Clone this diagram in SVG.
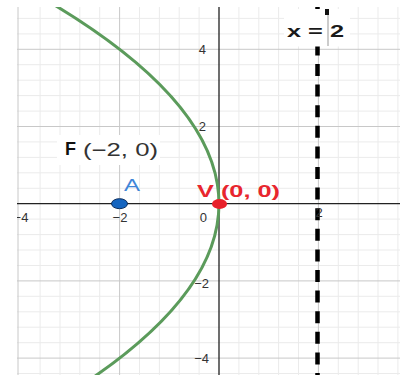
<svg xmlns="http://www.w3.org/2000/svg" width="404" height="379" viewBox="0 0 404 379">
<style>
.minor{stroke:#ebebeb;stroke-width:1;fill:none}
.major{stroke:#c8c8c8;stroke-width:1;fill:none}
.axis{stroke:#222;stroke-width:1.3;fill:none}
.tick{font-family:"Liberation Sans",Arial,sans-serif;font-size:13px;fill:#333}
.lbl{font-family:"Liberation Sans",Arial,sans-serif}
</style>
<defs>
<clipPath id="plot"><rect x="17" y="7" width="383" height="368"/></clipPath>
</defs>
<rect width="404" height="379" fill="#fff"/>
<g clip-path="url(#plot)">
<g id="grid">
<path class="minor" d="M40.1 7V375M60 7V375M79.8 7V375M99.7 7V375M139.5 7V375M159.4 7V375M179.2 7V375M199.1 7V375M238.9 7V375M258.8 7V375M278.6 7V375M298.5 7V375M338.3 7V375M358.2 7V375M378 7V375M397.9 7V375
M17 18.4H400M17 33.9H400M17 64.7H400M17 80.2H400M17 95.6H400M17 111.1H400M17 141.9H400M17 157.4H400M17 172.8H400M17 188.3H400M17 219.1H400M17 234.6H400M17 250H400M17 265.5H400M17 296.3H400M17 311.8H400M17 327.2H400M17 342.7H400M17 373.5H400"/>
<path class="major" d="M18 7V375M119.6 7V375M318.4 7V375M17 49.3H400M17 126.5H400M17 280.9H400M17 358.1H400"/>
</g>
<g id="axes">
<path class="axis" d="M17 203.7H400M219 7V375"/>
</g>
<g id="directrix">
<line x1="317.5" y1="7" x2="317.5" y2="375" stroke="#000" stroke-width="4.5" stroke-dasharray="12 8.6" stroke-dashoffset="4.8"/>
</g>
<g id="tick-labels" class="tick">
<text x="206" y="54" text-anchor="end">4</text>
<text x="206" y="131" text-anchor="end">2</text>
<text x="209" y="287.5" text-anchor="end">−2</text>
<text x="209" y="363" text-anchor="end">−4</text>
<text x="21" y="222" text-anchor="middle">−4</text>
<text x="120" y="222" text-anchor="middle">−2</text>
<text x="207" y="222" text-anchor="end">0</text>
<text x="319" y="217" text-anchor="middle">2</text>
</g>
<g id="label-directrix">
<rect x="284" y="9" width="66" height="37.5" fill="#fff"/>
<text class="lbl" x="287" y="37" font-size="17" font-weight="bold" fill="#1a1a1a" textLength="57" lengthAdjust="spacingAndGlyphs">x = 2</text>
<line x1="328" y1="10" x2="328" y2="46" stroke="#999" stroke-width="1"/>
<rect x="325" y="9" width="4" height="6" fill="#111"/>
</g>
<g id="label-focus">
<rect x="57" y="135" width="103" height="30" fill="#fff"/>
<text class="lbl" x="65" y="155" font-size="18" font-weight="bold" fill="#111" textLength="11" lengthAdjust="spacingAndGlyphs">F</text>
<text class="lbl" x="83" y="156" font-size="18" fill="#333" textLength="75" lengthAdjust="spacingAndGlyphs">(−2, 0)</text>
</g>
<g id="label-A">
<text class="lbl" x="124" y="191" font-size="17" fill="#3f86d8" textLength="16" lengthAdjust="spacingAndGlyphs">A</text>
</g>
<g id="label-V">
<text class="lbl" x="197" y="197" font-size="17" font-weight="bold" fill="#e8262e" textLength="83" lengthAdjust="spacingAndGlyphs">V (0, 0)</text>
</g>
<g id="parabola">
<path d="M24.2 -12.5Q379 184.4 87.5 381.3" fill="none" stroke="#5b9b5b" stroke-width="3"/>
</g>
<g id="point-A">
<ellipse cx="119.5" cy="203.7" rx="8" ry="5" fill="#1565c0" stroke="#0c2d5c" stroke-width="1"/>
</g>
<g id="point-V">
<ellipse cx="219.5" cy="204" rx="7.5" ry="5" fill="#e8202a"/>
</g>
</g>
</svg>
